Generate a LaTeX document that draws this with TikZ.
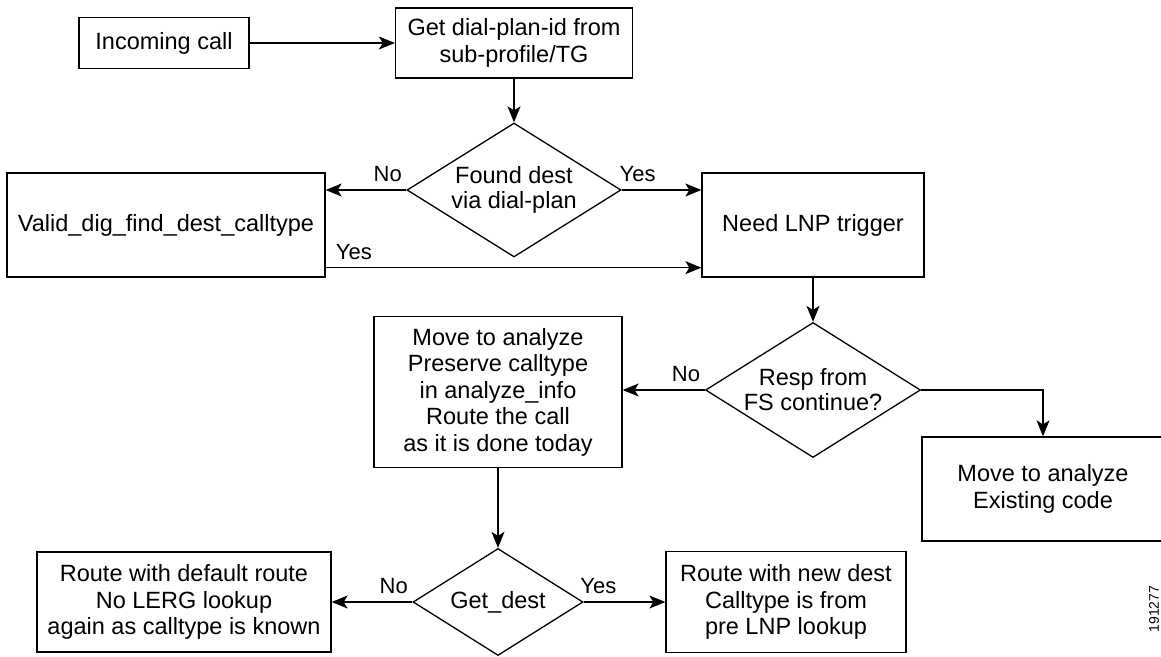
\documentclass[tikz,border=0pt]{standalone}
\usepackage{fontspec}
\setmainfont{Liberation Sans}
\usetikzlibrary{arrows.meta,shapes.geometric,positioning}

\begin{document}
\begin{tikzpicture}[
    x=1pt, y=-1pt,
    box/.style={draw, line width=1.3pt, inner sep=0pt, align=center, font=\fontsize{23.5}{26.5}\selectfont},
    dec/.style={draw, diamond, aspect=1.6, line width=1.3pt, inner sep=0pt, inner xsep=-12pt, align=center, font=\fontsize{23.5}{25}\selectfont},
    arr/.style={-{Stealth[length=16pt, width=13pt, inset=4pt]}, line width=1.3pt},
    lbl/.style={anchor=base, yshift=8.5pt, inner sep=0pt, font=\fontsize{22}{24}\selectfont}
]
\useasboundingbox (0,0) rectangle (1161,656);

\node[box, minimum width=170, minimum height=51] (incoming) at (164,43) {Incoming call};
\node[box, minimum width=237, minimum height=70] (getdial) at (514,43) {Get dial-plan-id from\\sub-profile/TG};
\node[dec, minimum width=214, minimum height=134] (found) at (514,190) {Found dest\\via dial-plan};
\node[box, minimum width=318, minimum height=104] (valid) at (166,225) {Valid\_dig\_find\_dest\_calltype};
\node[box, minimum width=222, minimum height=104] (lnp) at (813,225) {Need LNP trigger};
\node[dec, minimum width=215, minimum height=135] (resp) at (813,390) {Resp from\\FS continue?};
\node[box, minimum width=248, minimum height=151] (preserve) at (498,392) {Move to analyze\\Preserve calltype\\in analyze\_info\\Route the call\\as it is done today};
\node[box, minimum width=242, minimum height=104] (existing) at (1043,489) {Move to analyze\\Existing code};
\node[dec, minimum width=170, minimum height=107] (getdest) at (498,602) {Get\_dest};
\node[box, minimum width=294, minimum height=100] (default) at (184,602) {Route with default route\\No LERG lookup\\again as calltype is known};
\node[box, minimum width=240, minimum height=101] (newdest) at (786,602) {Route with new dest\\Calltype is from\\pre LNP lookup};
\node[rotate=90, inner sep=0pt, font=\fontsize{14}{14}\selectfont] (figid) at (1154,609) {191277};

\coordinate (validyes) at ([yshift=10pt]valid.south east);

\draw[arr] (incoming) -- (getdial);
\draw[arr] (getdial) -- (found);
\draw[arr] (found.west) -- node[lbl, pos=0.23] {No} (found.west -| valid.east);
\draw[arr] (found.east) -- node[lbl, pos=0.2] {Yes} (found.east -| lnp.west);
\draw[arr] (validyes) -- node[lbl, pos=0.075] {Yes} (validyes -| lnp.west);
\draw[arr] (lnp) -- (resp);
\draw[arr] (resp.west) -- node[lbl, pos=0.23] {No} (resp.west -| preserve.east);
\draw[arr] (resp.east) -| (existing.north);
\draw[arr] (preserve) -- (getdest);
\draw[arr] (getdest.west) -- node[lbl, pos=0.23] {No} (getdest.west -| default.east);
\draw[arr] (getdest.east) -- node[lbl, pos=0.18] {Yes} (getdest.east -| newdest.west);
\end{tikzpicture}
\end{document}
